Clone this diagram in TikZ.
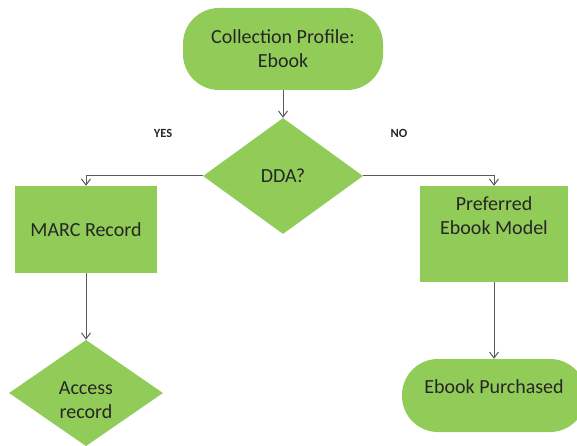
\documentclass[tikz,border=0pt]{standalone}
\usepackage{fontspec}
\setmainfont{Carlito}
\usetikzlibrary{shapes.geometric,arrows.meta}
\definecolor{boxgreen}{RGB}{146,204,88}
\definecolor{inkgray}{RGB}{38,38,38}
\definecolor{linegray}{RGB}{90,90,90}
\tikzset{
  base/.style={fill=boxgreen,text=inkgray,font=\fontsize{20}{24}\selectfont,align=center,inner sep=0pt},
  term/.style={base,rectangle,rounded corners=36pt},
  proc/.style={base,rectangle},
  decide/.style={base,diamond},
  flow/.style={draw=linegray,line width=1pt,-{Straight Barb[length=6pt,width=9pt]}},
  tag/.style={text=inkgray,font=\fontsize{12.5}{14}\selectfont\bfseries}
}
\begin{document}
\begin{tikzpicture}[x=1pt,y=-1pt]
\useasboundingbox (0,0) rectangle (577,446);
\clip (0,0) rectangle (577,446);
\node[term,minimum width=200pt,minimum height=82pt] (prof) at (283,49) {Collection Profile:\\Ebook};
\node[decide,minimum width=160pt,minimum height=116pt] (dda) at (283,176) {DDA?};
\node[proc,minimum width=142pt,minimum height=87pt] (marc) at (86,229.5) {MARC Record};
\node[proc,minimum width=148pt,minimum height=96pt,text depth=36pt] (pref) at (494,234) {Preferred\\Ebook Model};
\node[decide,minimum width=154pt,minimum height=106pt,text height=52pt] (acc) at (86,393) {Access\\record};
\node[term,minimum width=184pt,minimum height=73pt,text depth=18pt] (buy) at (494,395.5) {Ebook Purchased};
\node[tag] (yes) at (163,133) {YES};
\node[tag] (no) at (399,133) {NO};
\draw[flow] (prof) -- (dda);
\draw[flow] (dda.west) -| (marc.north);
\draw[flow] (dda.east) -| (pref.north);
\draw[flow] (marc) -- (acc);
\draw[flow] (pref) -- (buy);
\end{tikzpicture}
\end{document}
